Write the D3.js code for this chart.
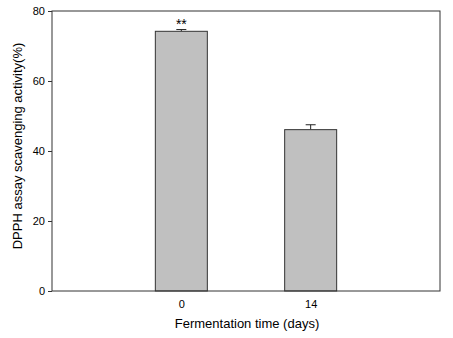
<!DOCTYPE html>
<html><head><meta charset="utf-8">
<script src="https://cdn.jsdelivr.net/npm/d3@7"></script>
<style>body{margin:0;background:#fff}text{font-family:Arial,"Liberation Sans",sans-serif}</style>
</head><body><svg id="c" width="453" height="338"></svg>
<script>
const categories = ["0", "14"];
const values = [74.2, 46.1];
const errors = [0.5, 1.4];
const marks = ["**", ""];
const yTicks = [0, 20, 40, 60, 80];

const svg = d3.select("#c");
const L = 52, R = 440, T = 11, B = 291;
const x = d3.scalePoint().domain(["", ...categories, " "]).range([L, R]);
const y = d3.scaleLinear().domain([0, 80]).range([B, T]);
const bw = 52;

const g = svg.append("g");
const data = categories.map((c, i) => ({c, v: values[i], e: errors[i], m: marks[i]}));

g.selectAll(".err").data(data).enter().append("path")
  .attr("d", d => `M${x(d.c)},${y(d.v)}V${y(d.v + d.e)}M${x(d.c) - 5},${y(d.v + d.e)}H${x(d.c) + 5}`)
  .attr("stroke", "#222").attr("stroke-width", 1).attr("fill", "none");

g.selectAll(".bar").data(data).enter().append("rect")
  .attr("x", d => x(d.c) - bw / 2).attr("y", d => y(d.v))
  .attr("width", bw).attr("height", d => y(0) - y(d.v))
  .attr("fill", "#c0c0c0").attr("stroke", "#333").attr("stroke-width", 1);

g.selectAll(".mk").data(data).enter().append("text")
  .attr("x", d => x(d.c)).attr("y", d => y(d.v + d.e) - 0.5)
  .attr("text-anchor", "middle").attr("font-size", 14).attr("fill", "#000")
  .text(d => d.m);

svg.append("rect").attr("x", L).attr("y", T).attr("width", R - L).attr("height", B - T)
  .attr("fill", "none").attr("stroke", "#333").attr("stroke-width", 1);

const ya = svg.append("g").attr("transform", `translate(${L},0)`)
  .call(d3.axisLeft(y).tickValues(yTicks).tickSize(4).tickPadding(3));
ya.select(".domain").remove();
ya.selectAll("line").attr("stroke", "#333");
ya.selectAll("text").attr("font-size", 11).attr("fill", "#000").style("font-family", "Arial, Liberation Sans, sans-serif");

const xa = svg.append("g").attr("transform", `translate(0,${B})`)
  .call(d3.axisBottom(x).tickValues(categories).tickSize(0).tickPadding(9));
xa.select(".domain").remove();
xa.selectAll("text").attr("font-size", 11).attr("fill", "#000").style("font-family", "Arial, Liberation Sans, sans-serif");

svg.append("text").attr("x", 247).attr("y", 328).attr("text-anchor", "middle")
  .attr("font-size", 13).attr("fill", "#000").text("Fermentation time (days)");
svg.append("text").attr("transform", `translate(22,146) rotate(-90)`)
  .attr("text-anchor", "middle").attr("font-size", 13).attr("fill", "#000")
  .text("DPPH assay scavenging activity(%)");
</script></body></html>
